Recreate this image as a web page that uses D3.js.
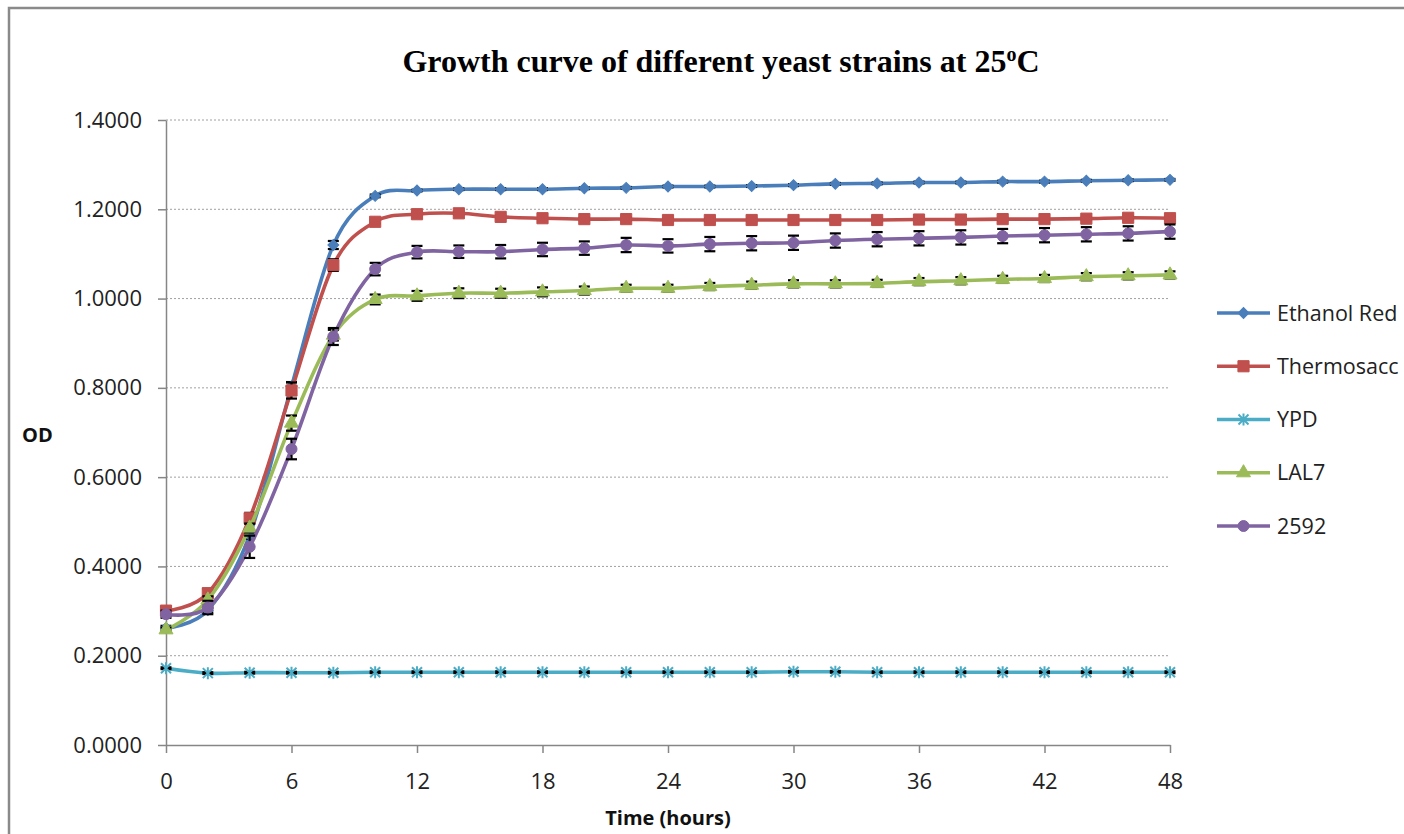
<!DOCTYPE html>
<html>
<head>
<meta charset="utf-8">
<script src="https://cdn.jsdelivr.net/npm/d3@7"></script>
<style>
  body { margin: 0; background: #fff; }
  svg { display: block; }
</style>
</head>
<body>
<svg id="chart" width="1404" height="834"></svg>
<script>
// data (OD per 2 hours)
const hours = [0, 2, 4, 6, 8, 10, 12, 14, 16, 18, 20, 22, 24, 26, 28, 30, 32, 34, 36, 38, 40, 42, 44, 46, 48];

const ethanolRed = [0.262, 0.302, 0.470, 0.803, 1.120, 1.230, 1.242, 1.245, 1.245, 1.245, 1.247, 1.248, 1.251, 1.251, 1.252, 1.254, 1.257, 1.258, 1.260, 1.260, 1.262, 1.262, 1.264, 1.265, 1.266];
const thermosacc = [0.301, 0.340, 0.508, 0.794, 1.075, 1.172, 1.189, 1.191, 1.183, 1.180, 1.178, 1.178, 1.176, 1.176, 1.176, 1.176, 1.176, 1.176, 1.177, 1.177, 1.178, 1.178, 1.179, 1.181, 1.180];
const ypd = [0.172, 0.161, 0.162, 0.162, 0.162, 0.163, 0.163, 0.163, 0.163, 0.163, 0.163, 0.163, 0.163, 0.163, 0.163, 0.164, 0.164, 0.163, 0.163, 0.163, 0.163, 0.163, 0.163, 0.163, 0.163];
const lal7 = [0.258, 0.325, 0.486, 0.721, 0.918, 0.998, 1.006, 1.012, 1.012, 1.015, 1.018, 1.023, 1.023, 1.027, 1.030, 1.033, 1.033, 1.034, 1.038, 1.040, 1.043, 1.045, 1.049, 1.051, 1.053];
const s2592 = [0.293, 0.308, 0.444, 0.663, 0.915, 1.066, 1.104, 1.105, 1.105, 1.110, 1.113, 1.120, 1.118, 1.122, 1.124, 1.125, 1.130, 1.133, 1.135, 1.137, 1.140, 1.142, 1.144, 1.146, 1.150];

// error bars (+/-)
const errEthanolRed = [0.005, 0.005, 0.008, 0.010, 0.009, 0.003, 0.002, 0.002, 0.002, 0.002, 0.002, 0.002, 0.002, 0.002, 0.002, 0.002, 0.002, 0.002, 0.002, 0.002, 0.002, 0.002, 0.002, 0.002, 0.002];
const errThermosacc = [0.008, 0.010, 0.012, 0.018, 0.013, 0.004, 0.004, 0.004, 0.004, 0.004, 0.004, 0.004, 0.004, 0.004, 0.004, 0.004, 0.004, 0.004, 0.004, 0.004, 0.004, 0.004, 0.004, 0.004, 0.004];
const errYpd = [0.002, 0.002, 0.002, 0.002, 0.002, 0.002, 0.002, 0.002, 0.002, 0.002, 0.002, 0.002, 0.002, 0.002, 0.002, 0.002, 0.002, 0.002, 0.002, 0.002, 0.002, 0.002, 0.002, 0.002, 0.002];
const errLal7 = [0.005, 0.008, 0.010, 0.017, 0.012, 0.011, 0.011, 0.011, 0.010, 0.010, 0.009, 0.008, 0.008, 0.008, 0.008, 0.008, 0.008, 0.008, 0.008, 0.008, 0.008, 0.008, 0.008, 0.008, 0.008];
const errS2592 = [0.008, 0.015, 0.025, 0.023, 0.019, 0.014, 0.014, 0.014, 0.015, 0.015, 0.015, 0.016, 0.015, 0.016, 0.016, 0.016, 0.016, 0.016, 0.016, 0.016, 0.016, 0.016, 0.016, 0.016, 0.016];

const seriesNames = ["Ethanol Red", "Thermosacc", "YPD", "LAL7", "2592"];
const yTicks = [0, 0.2, 0.4, 0.6, 0.8, 1.0, 1.2, 1.4];
const xTicks = [0, 6, 12, 18, 24, 30, 36, 42, 48];

const series = [
    { name: seriesNames[0], values: ethanolRed, err: errEthanolRed, color: "#4a7ebb", marker: "diamond" },
    { name: seriesNames[1], values: thermosacc, err: errThermosacc, color: "#c0504d", marker: "square" },
    { name: seriesNames[2], values: ypd, err: errYpd, color: "#4bacc6", marker: "star" },
    { name: seriesNames[3], values: lal7, err: errLal7, color: "#9bbb59", marker: "triangle" },
    { name: seriesNames[4], values: s2592, err: errS2592, color: "#8064a2", marker: "circle" }
];

const svg = d3.select("#chart");
const font = "'Open Sans', 'DejaVu Sans', sans-serif";

const x = d3.scaleLinear().domain([0, 48]).range([166, 1170]);
const y = d3.scaleLinear().domain([0, 1.4]).range([745, 120]);

// frame (cut off at right and bottom like the picture)
svg.append("rect")
    .attr("x", 9).attr("y", 8)
    .attr("width", 1440).attr("height", 880)
    .attr("fill", "#fff")
    .attr("stroke", "#8a8a8a")
    .attr("stroke-width", 2.5);

// grid
svg.append("g")
    .selectAll("line")
    .data(yTicks.filter(d => d > 0))
    .join("line")
    .attr("x1", x(0)).attr("x2", x(48))
    .attr("y1", d => y(d)).attr("y2", d => y(d))
    .attr("stroke", "#a0a0a0")
    .attr("stroke-width", 1)
    .attr("stroke-dasharray", "2,2");

// axes
const yAxis = svg.append("g")
    .attr("transform", `translate(${x(0)},0)`)
    .call(d3.axisLeft(y).tickValues(yTicks).tickFormat(d3.format(".4f")).tickSize(8).tickSizeOuter(0).tickPadding(16));

const xAxis = svg.append("g")
    .attr("transform", `translate(0,${y(0)})`)
    .call(d3.axisBottom(x).tickValues(xTicks).tickFormat(d3.format("d")).tickSize(8).tickSizeOuter(0).tickPadding(20));

[yAxis, xAxis].forEach(g => {
    g.select(".domain").attr("stroke", "#868686").attr("stroke-width", 1.5);
    g.selectAll(".tick line").attr("stroke", "#868686").attr("stroke-width", 1.5);
    g.selectAll(".tick text")
        .attr("fill", "#222")
        .style("font-family", font)
        .style("font-size", "22px");
});

// marker shapes
function markerPath(type) {
    if (type === "diamond") return d3.symbol().type(d3.symbolSquare).size(60)();
    if (type === "square") return d3.symbol().type(d3.symbolSquare).size(125)();
    if (type === "triangle") return d3.symbol().type(d3.symbolTriangle).size(85)();
    if (type === "circle") return d3.symbol().type(d3.symbolCircle).size(95)();
    // star: x with a vertical stroke
    return "M-5,-5L5,5M-5,5L5,-5M0,-6L0,6";
}

function drawMarker(sel, s) {
    sel.attr("d", markerPath(s.marker))
        .attr("fill", s.marker === "star" ? "none" : s.color)
        .attr("stroke", s.color)
        .attr("stroke-width", s.marker === "star" ? 2 : 1);
    if (s.marker === "diamond") sel.attr("transform", function () {
        return d3.select(this).attr("transform") + " rotate(45)";
    });
}

const line = d3.line()
    .x(d => x(d.h))
    .y(d => y(d.v))
    .curve(d3.curveCardinal.tension(0));

series.forEach(s => {
    const pts = hours.map((h, i) => ({ h: h, v: s.values[i], e: s.err[i] }));
    const g = svg.append("g");

    g.append("path")
        .datum(pts)
        .attr("d", line)
        .attr("fill", "none")
        .attr("stroke", s.color)
        .attr("stroke-width", 3.6);

    // error bars
    const eb = g.append("g").attr("stroke", "#000").attr("stroke-width", 2.2);
    eb.selectAll("line.v")
        .data(pts)
        .join("line")
        .attr("class", "v")
        .attr("x1", d => x(d.h)).attr("x2", d => x(d.h))
        .attr("y1", d => y(d.v - d.e)).attr("y2", d => y(d.v + d.e));
    eb.selectAll("line.top")
        .data(pts)
        .join("line")
        .attr("class", "top")
        .attr("x1", d => x(d.h) - 5.5).attr("x2", d => x(d.h) + 5.5)
        .attr("y1", d => y(d.v + d.e)).attr("y2", d => y(d.v + d.e));
    eb.selectAll("line.bot")
        .data(pts)
        .join("line")
        .attr("class", "bot")
        .attr("x1", d => x(d.h) - 5.5).attr("x2", d => x(d.h) + 5.5)
        .attr("y1", d => y(d.v - d.e)).attr("y2", d => y(d.v - d.e));

    g.selectAll("path.mk")
        .data(pts)
        .join("path")
        .attr("class", "mk")
        .attr("transform", d => `translate(${x(d.h)},${y(d.v)})`)
        .each(function () { drawMarker(d3.select(this), s); });
});

// title
const title = svg.append("text")
    .attr("x", 721)
    .attr("y", 72)
    .attr("text-anchor", "middle")
    .style("font-family", "'Liberation Serif', 'Times New Roman', serif")
    .style("font-weight", "bold")
    .style("font-size", "32px")
    .attr("fill", "#000");
title.append("tspan").text("Growth curve of different yeast strains at 25");
title.append("tspan").attr("dy", -11).style("font-size", "20px").text("o");
title.append("tspan").attr("dy", 11).text("C");

// axis titles
svg.append("text")
    .attr("x", 22).attr("y", 442)
    .style("font-family", font)
    .style("font-weight", "bold")
    .style("font-size", "20px")
    .attr("fill", "#111")
    .text("OD");

svg.append("text")
    .attr("x", x(24)).attr("y", 825)
    .attr("text-anchor", "middle")
    .style("font-family", font)
    .style("font-weight", "bold")
    .style("font-size", "20px")
    .attr("fill", "#111")
    .text("Time (hours)");

// legend
const legendY = d3.scalePoint().domain(seriesNames).range([313, 526]);
const legend = svg.append("g")
    .selectAll("g")
    .data(series)
    .join("g")
    .attr("transform", d => `translate(1217,${legendY(d.name)})`);

legend.append("line")
    .attr("x1", 0).attr("x2", 53)
    .attr("stroke", d => d.color)
    .attr("stroke-width", 3.6);

legend.append("path")
    .attr("transform", "translate(26.5,0)")
    .each(function (d) { drawMarker(d3.select(this), d); });

legend.append("text")
    .attr("x", 60)
    .attr("dy", "0.35em")
    .style("font-family", font)
    .style("font-size", "21.5px")
    .attr("fill", "#222")
    .text(d => d.name);
</script>
</body>
</html>
